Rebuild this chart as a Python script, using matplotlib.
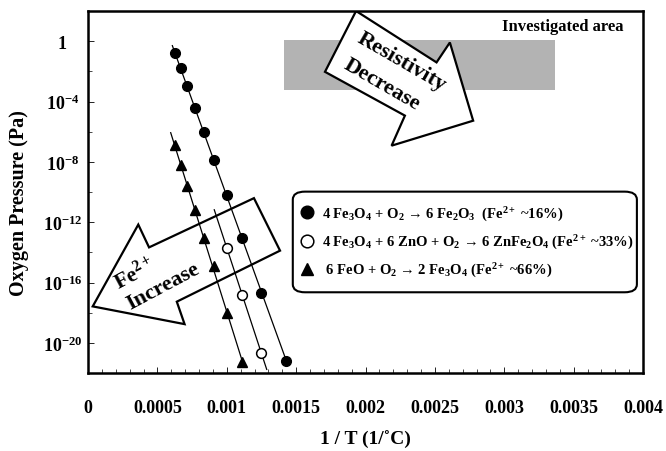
import matplotlib
matplotlib.use("Agg")
import matplotlib.pyplot as plt
from matplotlib.patches import Polygon, FancyBboxPatch
import numpy as np

plt.rcParams['font.family'] = ['Liberation Serif', 'DejaVu Serif']
plt.rcParams['font.weight'] = 'bold'
plt.rcParams['mathtext.fontset'] = 'custom'
plt.rcParams['mathtext.rm'] = 'Liberation Serif:bold'
plt.rcParams['mathtext.bf'] = 'Liberation Serif:bold'
plt.rcParams['mathtext.it'] = 'Liberation Serif:bold:italic'

# ---- data ----
# Fe3O4 -> Fe2O3 (filled circles)
x_fe2o3 = [0.000625, 0.000667, 0.000714, 0.000769, 0.000833, 0.000909, 0.001000, 0.001111, 0.001250, 0.001429]
logp_fe2o3 = [-0.8, -1.8, -3.0, -4.4, -6.0, -7.9, -10.2, -13.05, -16.7, -21.2]
line_x_fe2o3 = [0.000608, 0.001441]

# Fe3O4 + ZnO -> ZnFe2O4 (open circles)
x_znfe = [0.001000, 0.001111, 0.001250]
logp_znfe = [-13.7, -16.8, -20.7]
line_x_znfe = [0.000910, 0.001288]

# FeO -> Fe3O4 (triangles)
x_fe3o4 = [0.000625, 0.000667, 0.000714, 0.000769, 0.000833, 0.000909, 0.001000, 0.001111]
logp_fe3o4 = [-6.9, -8.2, -9.6, -11.2, -13.05, -14.9, -18.0, -21.3]
line_x_fe3o4 = [0.000596, 0.001124]

labels = [
    r"4 Fe$_3$O$_4$ + O$_2$ → 6 Fe$_2$O$_3$  (Fe$^{2+}$ ~16%)",
    r"4 Fe$_3$O$_4$ + 6 ZnO + O$_2$ → 6 ZnFe$_2$O$_4$ (Fe$^{2+}$ ~33%)",
    r" 6 FeO + O$_2$ → 2 Fe$_3$O$_4$ (Fe$^{2+}$ ~66%)",
]

# investigated area (x range, log10 pressure range)
area_x = [0.001413, 0.003366]
area_logp = [-3.24, 0.1]

xticks = [0, 0.0005, 0.001, 0.0015, 0.002, 0.0025, 0.003, 0.0035, 0.004]
xtick_labels = ["0", "0.0005", "0.001", "0.0015", "0.002", "0.0025", "0.003", "0.0035", "0.004"]
yticks_exp = [-20, -16, -12, -8, -4, 0]
ytick_labels = [r"$\mathbf{10^{-20}}$", r"$\mathbf{10^{-16}}$", r"$\mathbf{10^{-12}}$",
                r"$\mathbf{10^{-8}}$", r"$\mathbf{10^{-4}}$", "1"]

def fitline(xs, ys, xr):
    c = np.polyfit(xs, ys, 1)
    xr = np.array(xr)
    return xr, 10 ** np.polyval(c, xr)

fig = plt.figure(figsize=(6.66, 4.52), dpi=100)
ax = fig.add_axes([88/666, 1-374/452, 555/666, 362/452])
ax.set_yscale('log')
ax.set_xlim(0, 0.004)
ax.set_ylim(1e-22, 1e2)

# gray investigated area
ax.fill_between(area_x, 10**area_logp[0], 10**area_logp[1], color='#b3b3b3', lw=0, zorder=1)
ax.text(0.964, 0.959, "Investigated area", transform=ax.transAxes, ha='right', va='center',
        fontsize=12, fontweight='bold', zorder=6)

# block arrows (axes-fraction geometry)
res_arrow = [(0.483, 1.0), (0.628, 0.858), (0.652, 0.913), (0.694, 0.697),
             (0.547, 0.628), (0.571, 0.711), (0.427, 0.832)]
fe_arrow = [(0.299, 0.483), (0.110, 0.347), (0.0906, 0.410), (0.0085, 0.184),
            (0.174, 0.135), (0.160, 0.197), (0.346, 0.338)]
for pts in (res_arrow, fe_arrow):
    ax.add_patch(Polygon(pts, closed=True, transform=ax.transAxes, facecolor='white',
                         edgecolor='black', lw=1.6, zorder=2, joinstyle='miter'))
ax.text(0.565, 0.862, "Resistivity", transform=ax.transAxes, rotation=-30, ha='center', va='center',
        fontsize=16, fontweight='bold', zorder=2.5, rotation_mode='anchor')
ax.text(0.529, 0.800, "Decrease", transform=ax.transAxes, rotation=-30, ha='center', va='center',
        fontsize=16, fontweight='bold', zorder=2.5, rotation_mode='anchor')
ax.text(0.084, 0.276, r"Fe$^{2+}$", transform=ax.transAxes, rotation=28, ha='center', va='center',
        fontsize=16, fontweight='bold', zorder=2.5, rotation_mode='anchor')
ax.text(0.136, 0.241, "Increase", transform=ax.transAxes, rotation=28, ha='center', va='center',
        fontsize=16, fontweight='bold', zorder=2.5, rotation_mode='anchor')

# fitted lines
for xs, ls, xr in ((x_fe2o3, logp_fe2o3, line_x_fe2o3),
                   (x_znfe, logp_znfe, line_x_znfe),
                   (x_fe3o4, logp_fe3o4, line_x_fe3o4)):
    lx, ly = fitline(xs, ls, xr)
    ax.plot(lx, ly, color='black', lw=0.9, zorder=3)

h1, = ax.plot(x_fe2o3, 10**np.array(logp_fe2o3), 'o', ms=7, mfc='black', mec='black', zorder=4)
h2, = ax.plot(x_znfe, 10**np.array(logp_znfe), 'o', ms=7, mfc='white', mec='black', mew=1.1, zorder=4)
h3, = ax.plot(x_fe3o4, 10**np.array(logp_fe3o4), '^', ms=7, mfc='black', mec='black', zorder=4)

# legend frame (rounded box) + legend entries
ax.add_patch(FancyBboxPatch((0.369, 0.223), 0.989 - 0.369, 0.501 - 0.223,
                            boxstyle='round,pad=0,rounding_size=0.022', transform=ax.transAxes,
                            facecolor='white', edgecolor='black', lw=1.5, zorder=4.5))
leg = ax.legend([h1, h2, h3], labels, loc='upper left', bbox_to_anchor=(0.369, 0.488),
                borderaxespad=0, fontsize=10.5, frameon=False, markerscale=1.3,
                handlelength=0.9, handletextpad=0.55, borderpad=0.55, labelspacing=0.69)
leg.set_zorder(5)

# axes / ticks
ax.set_xticks(xticks)
ax.set_xticklabels(xtick_labels)
ax.set_xticks(np.arange(0, 0.00401, 0.0001), minor=True)
ax.set_yticks([10.0**e for e in yticks_exp])
ax.set_yticklabels(ytick_labels)
ax.set_yticks([10.0**e for e in range(-22, 3, 2)], minor=True)
ax.yaxis.set_minor_formatter(matplotlib.ticker.NullFormatter())
ax.tick_params(axis='both', which='major', direction='in', length=4, width=0.6, labelsize=13)
ax.tick_params(axis='both', which='minor', direction='in', length=3, width=0.5)
ax.tick_params(axis='x', which='major', pad=18.5)
ax.tick_params(axis='y', which='major', pad=18.4)
for lab in ax.get_yticklabels():
    lab.set_ha('center')
for sp in ax.spines.values():
    sp.set_linewidth(1.8)

ax.set_xlabel("1 / T (1/˚C)", fontsize=14, fontweight='bold', labelpad=10)
ax.set_ylabel("Oxygen Pressure (Pa)", fontsize=14.5, fontweight='bold')
ax.yaxis.set_label_coords(-0.106, 0.472)

fig.savefig("out.png", dpi=100, facecolor='white')
